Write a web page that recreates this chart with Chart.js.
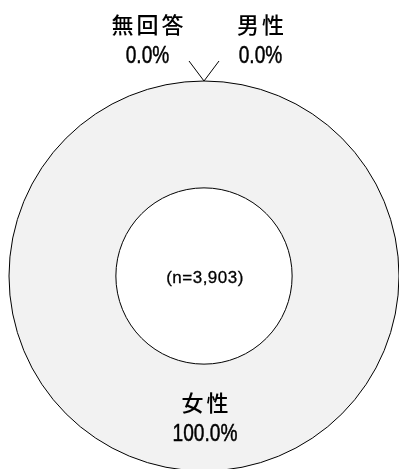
<!DOCTYPE html>
<html>
<head>
<meta charset="utf-8">
<script src="https://cdn.jsdelivr.net/npm/chart.js@4/dist/chart.umd.min.js"></script>
<style>
html,body{margin:0;padding:0;background:#fff;overflow:hidden;}
canvas{display:block;}
</style>
</head>
<body>
<canvas id="c" width="399" height="472"></canvas>
<script>
const categories = ['男性', '女性', '無回答'];
const values = [0.0, 100.0, 0.0];
const sampleLabel = '(n=3,903)';

const CJK = "'Noto Sans CJK JP', 'Noto Sans CJK SC', sans-serif";
const LAT = "'Liberation Sans', Arial, sans-serif";

function drawCJK(ctx, text, cx, cy) {
  ctx.save();
  ctx.font = '500 22px ' + CJK;
  ctx.letterSpacing = '3px';
  ctx.textAlign = 'left';
  ctx.textBaseline = 'middle';
  const w = ctx.measureText(text).width - 3;
  ctx.fillText(text, cx - w / 2, cy);
  ctx.restore();
}
function drawNum(ctx, text, cx, cy) {
  ctx.save();
  ctx.font = '24.5px ' + LAT;
  ctx.textAlign = 'center';
  ctx.textBaseline = 'middle';
  ctx.translate(cx, cy);
  ctx.scale(0.78, 1);
  ctx.fillText(text, 0, 0);
  ctx.lineWidth = 0.5;
  ctx.strokeText(text, 0, 0);
  ctx.restore();
}

const labelPlugin = {
  id: 'labels',
  afterDatasetsDraw(chart) {
    const ctx = chart.ctx;
    const meta = chart.getDatasetMeta(0);
    ctx.save();
    ctx.fillStyle = '#000';
    ctx.strokeStyle = '#000';
    ctx.lineWidth = 1;
    let zeroSide = 1;
    meta.data.forEach((arc, i) => {
      const v = values[i];
      const txt = v.toFixed(1) + '%';
      const mid = (arc.startAngle + arc.endAngle) / 2;
      if (v > 0) {
        ctx.lineWidth = 1;
        ctx.beginPath();
        ctx.arc(arc.x, arc.y, arc.outerRadius, 0, Math.PI * 2);
        ctx.stroke();
        ctx.beginPath();
        ctx.arc(arc.x, arc.y, arc.innerRadius, 0, Math.PI * 2);
        ctx.stroke();
        const r = (arc.innerRadius + arc.outerRadius) / 2;
        const x = arc.x + Math.cos(mid) * r + 1;
        const y = arc.y + Math.sin(mid) * r + 1;
        drawCJK(ctx, categories[i], x, y - 15.5);
        drawNum(ctx, txt, x, y + 16);
      } else {
        const ax = arc.x + Math.cos(mid) * arc.outerRadius;
        const ay = arc.y + Math.sin(mid) * arc.outerRadius;
        const s = zeroSide;
        zeroSide = -zeroSide;
        ctx.lineWidth = 1;
        ctx.beginPath();
        ctx.moveTo(ax, ay);
        ctx.lineTo(ax + s * 15, ay - 20);
        ctx.stroke();
        const lx = ax + s * 56.5;
        drawCJK(ctx, categories[i], lx, ay - 56);
        drawNum(ctx, txt, lx, ay - 24.5);
      }
    });
    ctx.font = '17px ' + LAT;
    ctx.letterSpacing = '0.5px';
    ctx.textAlign = 'center';
    ctx.textBaseline = 'middle';
    ctx.lineWidth = 0.3;
    const a0 = meta.data[0];
    ctx.fillText(sampleLabel, a0.x + 1, a0.y + 2);
    ctx.strokeText(sampleLabel, a0.x + 1, a0.y + 2);
    ctx.restore();
  }
};

new Chart(document.getElementById('c'), {
  type: 'doughnut',
  data: {
    labels: categories,
    datasets: [{
      data: values,
      backgroundColor: ['#f2f2f2', '#f2f2f2', '#f2f2f2'],
      borderWidth: 0
    }]
  },
  options: {
    responsive: false,
    animation: false,
    events: [],
    cutout: '45.2%',
    layout: { padding: { left: 9, right: 0, top: 80, bottom: 0 } },
    plugins: { legend: { display: false }, tooltip: { enabled: false } }
  },
  plugins: [labelPlugin]
});
</script>
</body>
</html>
